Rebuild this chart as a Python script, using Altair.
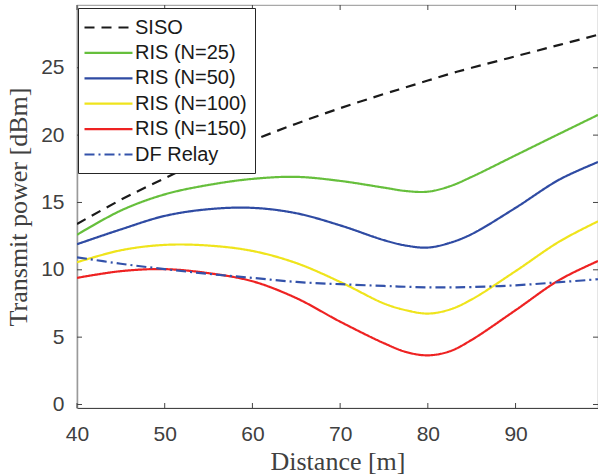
import altair as alt
import pandas as pd

# ---- data ----
distance = [40, 45, 50, 55, 60, 65, 70, 75, 77.5, 80, 82.5, 85, 90, 95, 99.4]
siso     = [13.4, 15.2, 16.8, 18.3, 19.6, 20.85, 22.0, 23.05, 23.55, 24.05, 24.55, 25.0, 25.85, 26.7, 27.45]
ris25    = [12.6, 14.4, 15.6, 16.3, 16.75, 16.9, 16.6, 16.1, 15.85, 15.8, 16.2, 16.9, 18.5, 20.1, 21.5]
ris50    = [11.9, 13.0, 14.0, 14.5, 14.6, 14.2, 13.3, 12.2, 11.8, 11.65, 12.0, 12.65, 14.6, 16.7, 18.0]
ris100   = [10.56, 11.45, 11.85, 11.8, 11.4, 10.5, 9.1, 7.5, 7.0, 6.75, 7.05, 7.8, 9.9, 12.1, 13.6]
ris150   = [9.4, 9.9, 10.05, 9.75, 9.15, 7.9, 6.15, 4.55, 3.9, 3.65, 3.95, 4.8, 7.0, 9.25, 10.65]
df_relay = [10.93, 10.45, 10.05, 9.7, 9.4, 9.1, 8.93, 8.8, 8.74, 8.7, 8.7, 8.72, 8.85, 9.08, 9.3]

series_names = ["SISO", "RIS (N=25)", "RIS (N=50)", "RIS (N=100)", "RIS (N=150)", "DF Relay"]
series_values = [siso, ris25, ris50, ris100, ris150, df_relay]
colors = ["#1a1a1a", "#66bf3c", "#2f4ba3", "#efe41c", "#ee2222", "#3352aa"]
dashes = [[10, 7], [1, 0], [1, 0], [1, 0], [1, 0], [10, 4, 2, 4]]

x_tick_labels = [40, 50, 60, 70, 80, 90]
y_tick_labels = [0, 5, 10, 15, 20, 25]

rows = []
for name, vals in zip(series_names, series_values):
    for d, v in zip(distance, vals):
        rows.append({"Distance": d, "Power": v, "series": name})
df = pd.DataFrame(rows)

W, H = 521, 403
xscale = alt.Scale(domain=[40, 99.4], nice=False, zero=False)
yscale = alt.Scale(domain=[-0.26, 29.66], nice=False, zero=False)

x_axis = alt.Axis(values=x_tick_labels, ticks=False, grid=False, labelFlush=False,
                  labelFontSize=21, labelFont="Liberation Sans", labelColor="#404040",
                  labelPadding=15, domainColor="#444444", domainWidth=1.2,
                  title="Distance [m]", titleFont="Liberation Serif", titleFontSize=26,
                  titleFontWeight="normal", titleColor="#404040", titlePadding=4)
y_axis = alt.Axis(values=y_tick_labels, ticks=False, grid=False, labelFlush=False,
                  labelFontSize=21, labelFont="Liberation Sans", labelColor="#404040",
                  labelPadding=13, domainColor="#9a9a9a", domainWidth=1.5,
                  title="Transmit power [dBm]", titleFont="Liberation Serif", titleFontSize=26,
                  titleFontWeight="normal", titleColor="#404040", titlePadding=9)

legend_cfg = dict(
    title=None, orient="none", legendX=1, legendY=3,
    fillColor="white", strokeColor="#262626", padding=8,
    symbolType="M-1.3,0H3.5", symbolSize=400, symbolStrokeWidth=2.2,
    labelFontSize=20, labelFont="Liberation Sans", labelColor="#1a1a1a",
    rowPadding=3.4, labelOffset=26, cornerRadius=0,
)

lines = alt.Chart(df).mark_line(strokeWidth=2.2, interpolate="catmull-rom", clip=True).encode(
    x=alt.X("Distance:Q", scale=xscale, axis=x_axis),
    y=alt.Y("Power:Q", scale=yscale, axis=y_axis),
    color=alt.Color("series:N", sort=series_names,
                    scale=alt.Scale(domain=series_names, range=colors),
                    legend=alt.Legend(**legend_cfg)),
    strokeDash=alt.StrokeDash("series:N", sort=series_names,
                              scale=alt.Scale(domain=series_names, range=dashes),
                              legend=alt.Legend(**legend_cfg)),
)

xt = pd.DataFrame({"Distance": x_tick_labels})
yt = pd.DataFrame({"Power": y_tick_labels})
tick_style = dict(color="#444444", strokeWidth=1)
bottom_ticks = alt.Chart(xt).mark_rule(**tick_style).encode(
    x=alt.X("Distance:Q", scale=xscale, axis=x_axis), y=alt.value(H), y2=alt.value(H - 5))
top_ticks = alt.Chart(xt).mark_rule(**tick_style).encode(
    x=alt.X("Distance:Q", scale=xscale, axis=x_axis), y=alt.value(0), y2=alt.value(5))
left_ticks = alt.Chart(yt).mark_rule(**tick_style).encode(
    y=alt.Y("Power:Q", scale=yscale, axis=y_axis), x=alt.value(0), x2=alt.value(5))
right_ticks = alt.Chart(yt).mark_rule(**tick_style).encode(
    y=alt.Y("Power:Q", scale=yscale, axis=y_axis), x=alt.value(W), x2=alt.value(W - 5))

chart = alt.layer(lines, bottom_ticks, top_ticks, left_ticks, right_ticks).properties(
    width=W, height=H,
    autosize=alt.AutoSizeParams(type="none"),
    padding={"left": 77, "top": 5, "right": 0, "bottom": 68},
    background="white",
).configure_view(stroke="#a8a8a8", strokeWidth=1.2)

chart.save("out.html", embed_options={"renderer": "svg", "actions": False})
